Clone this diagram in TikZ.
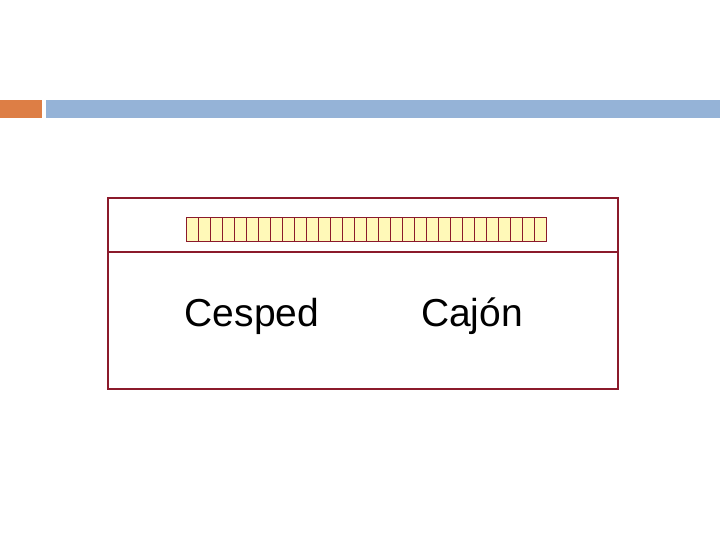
\documentclass[tikz,border=0pt]{standalone}
\usepackage{fontspec}
\setmainfont{Liberation Sans}
\usetikzlibrary{positioning}
\definecolor{boxred}{HTML}{8B1A2B}
\definecolor{bandblue}{HTML}{95B3D7}
\definecolor{bandorange}{HTML}{DD7E45}
\definecolor{cellfill}{HTML}{FFF9B8}
\tikzset{
  cellbox/.style={draw=boxred, fill=cellfill, minimum width=12pt, minimum height=23pt, inner sep=0pt, line width=1pt},
  word/.style={font=\fontsize{39}{44}\selectfont}
}
\begin{document}
\begin{tikzpicture}[x=1pt, y=-1pt]
\useasboundingbox (0,0) rectangle (720,540);
% cabecera
\fill[bandorange] (0,100) rectangle (42,118);
\fill[bandblue] (46,100) rectangle (720,118);
% marco
\draw[boxred, line width=1.5pt] (108,198) rectangle (618,389);
\coordinate (divl) at (108,252);
\coordinate (divr) at (618,252);
\draw[boxred, line width=1.5pt] (divl) -- (divr);
% celdas
\foreach \i in {0,...,29} {
  \node (c\i) [cellbox] at (192+12*\i,229.5) {};
}
\node (cesped) [word] at (252,316) {Cesped};
\node (cajon) [word] at (472,316) {Cajón};
\end{tikzpicture}
\end{document}
